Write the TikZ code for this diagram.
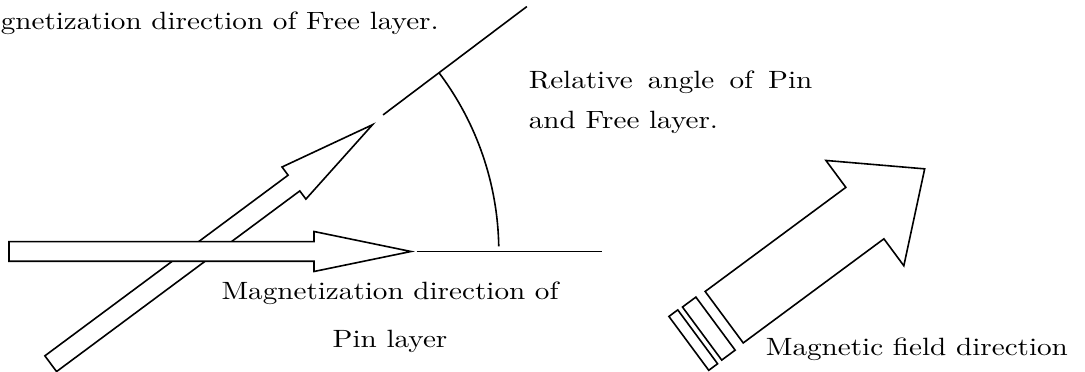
\documentclass[tikz,border=0pt]{standalone}
\usepackage{graphicx}
\usetikzlibrary{calc}
\newcommand{\wtxt}[1]{\scalebox{2.915}[2.5]{\fontsize{10}{12}\selectfont #1}}
\begin{document}
\begin{tikzpicture}[x=1pt,y=1pt, line width=1.6pt, line join=miter,
  lbl/.style={inner sep=0pt},
  arrowbody/.style={draw=black, fill=white},
  plain/.style={draw=black}]
\useasboundingbox (0,0) rectangle (1085,372);
\coordinate (C) at (201.8,120.5);
% diagonal arrow (Free layer), drawn first
\begin{scope}[shift={(C)}, rotate=36.6]
  \path[arrowbody] (-188.2,-9.8) -- (114.8,-9.8) -- (114.8,-20) -- (212.7,0)
     -- (114.8,20) -- (114.8,9.8) -- (-188.2,9.8) -- cycle;
\end{scope}
% horizontal arrow (Pin layer)
\begin{scope}[shift={(C)}]
  \path[arrowbody] (-192.8,-9.8) -- (112.2,-9.8) -- (112.2,-20) -- (209.2,0)
     -- (112.2,20) -- (112.2,9.8) -- (-192.8,9.8) -- cycle;
\end{scope}
% reference lines and angle arc
\coordinate (h1) at ($(C)+(214.9,0)$);
\coordinate (h2) at ($(C)+(399.9,0)$);
\coordinate (f1) at ($(C)+(37:227)$);
\coordinate (f2) at ($(C)+(37:407)$);
\coordinate (a1) at ($(C)+(1:297)$);
\path[plain] (h1) -- (h2);
\path[plain] (f1) -- (f2);
\path[plain] (a1) arc[start angle=1, end angle=37, radius=297];
% magnetic field arrow
\begin{scope}[shift={(724.2,54.8)}, rotate=36.5]
  \path[arrowbody] (0,-32) -- (175,-32) -- (175,-65.5) -- (249.4,0)
     -- (175,65.5) -- (175,32) -- (0,32) -- cycle;
  \path[plain] (-27.5,-33) rectangle (-10.8,33);
  \path[plain] (-44,-33.5) rectangle (-33,33.5);
\end{scope}
% labels
\node[lbl, anchor=base west] (free) at (0,342) {\wtxt{gnetization direction of Free layer.}};
\node[lbl, anchor=base west] (rel1) at (528,283.7) {\wtxt{\spaceskip=0.52em Relative angle of Pin}};
\node[lbl, anchor=base west] (rel2) at (528,243) {\wtxt{and Free layer.}};
\node[lbl, anchor=base] (pin1) at (390,72) {\wtxt{Magnetization direction of}};
\node[lbl, anchor=base] (pin2) at (390,24) {\wtxt{Pin layer}};
\node[lbl, anchor=base west] (field) at (765,16) {\wtxt{Magnetic field direction}};
\end{tikzpicture}
\end{document}
